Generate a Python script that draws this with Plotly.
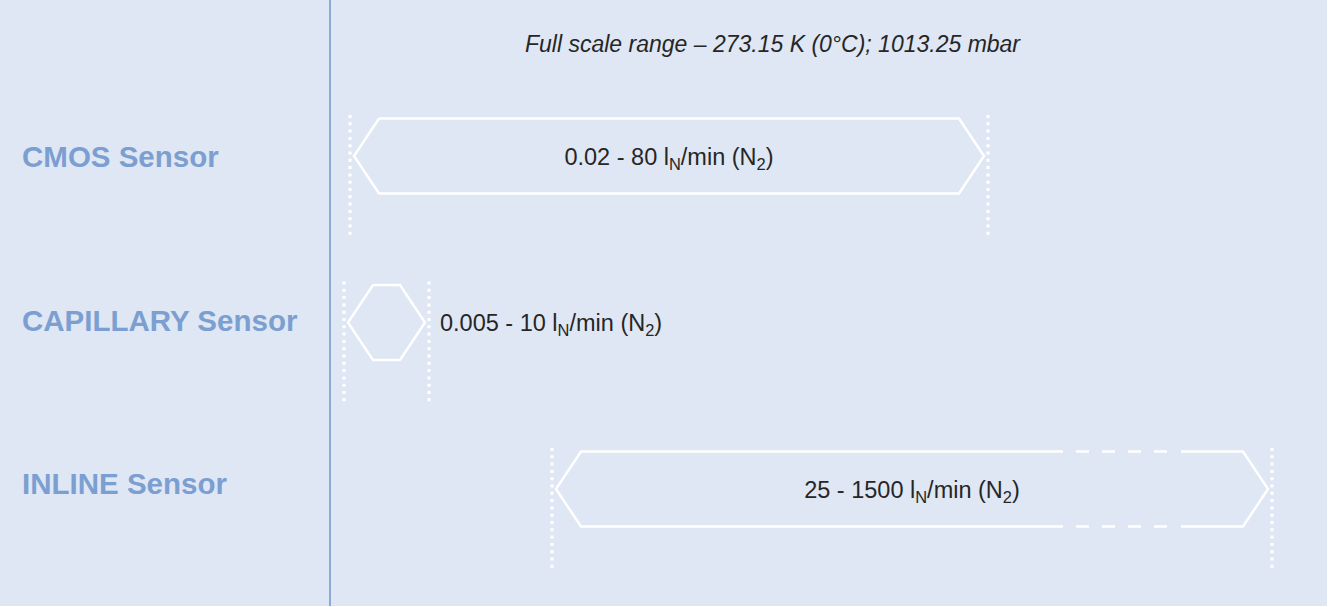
import plotly.graph_objects as go

# ---------------- data ----------------
sensors = ["CMOS Sensor", "CAPILLARY Sensor", "INLINE Sensor"]
range_text = [
    "0.02 - 80 l<sub>N</sub>/min (N<sub>2</sub>)",
    "0.005 - 10 l<sub>N</sub>/min (N<sub>2</sub>)",
    "25 - 1500 l<sub>N</sub>/min (N<sub>2</sub>)",
]
# schematic span of each range on the (unitless) horizontal scale
span_start = [350, 344, 552]
span_end = [988, 429, 1272]
# optional dashed (extendable) portion of a span
dashed_start = [None, None, 1063]
dashed_end = [None, None, 1181]
title_text = "Full scale range \u2013 273.15 K (0\u00b0C); 1013.25 mbar"

# ---------------- styling / geometry ----------------
W, H = 1335, 607
PLOT_W, PLOT_H = 1327, 606
ROW0, ROW_PX = 156, 166.5
LABEL_ROW0, LABEL_PX = 160, 163.5
TEXT_DY = 2.7
BG = "#DFE6F4"
LABEL_C = "#7B9FD0"
TEXT_C = "#262626"
FONT = "Liberation Sans, Arial, Helvetica, sans-serif"


def ry(px):
    """pixel offset -> row units"""
    return px / ROW_PX


HALF = ry(37.5)
TIP_GAP = 4
TIP_IN = 25
DOT_TOP = ry(41)
DOT_BOT = ry(80)

fig = go.Figure()

for i, name in enumerate(sensors):
    s, e = span_start[i], span_end[i]
    lt, rt = s + TIP_GAP, e - TIP_GAP
    lc, rc = lt + TIP_IN, rt - TIP_IN
    top, bot = i - HALF, i + HALF
    line = dict(color="white", width=2.5)
    if dashed_start[i] is None:
        xs = [lc, rc, rt, rc, lc, lt, lc]
        ys = [top, top, i, bot, bot, i, top]
        fig.add_trace(go.Scatter(x=xs, y=ys, mode="lines", line=line, hoverinfo="skip"))
    else:
        ds, de = dashed_start[i], dashed_end[i]
        xs = [ds, lc, lt, lc, ds, None, de, rc, rt, rc, de]
        ys = [top, top, i, bot, bot, None, top, top, i, bot, bot]
        fig.add_trace(go.Scatter(x=xs, y=ys, mode="lines", line=line, hoverinfo="skip"))
        fig.add_trace(go.Scatter(
            x=[ds + 13, de - 13, None, ds + 13, de - 13],
            y=[top, top, None, bot, bot], mode="lines",
            line=dict(color="white", width=2.5, dash="13px,13px"), hoverinfo="skip"))
    # dotted boundaries
    for xv in (s, e):
        fig.add_trace(go.Scatter(
            x=[xv, xv], y=[i - DOT_TOP, i + DOT_BOT], mode="lines",
            line=dict(color="white", width=3.2, dash="3px,4.3px"), hoverinfo="skip"))
    # range text: inside if wide enough, otherwise to the right
    ty = i + ry(TEXT_DY)
    if e - s > 300:
        fig.add_trace(go.Scatter(
            x=[(s + e) / 2], y=[ty], mode="text", text=[range_text[i]],
            textposition="middle center",
            textfont=dict(family=FONT, size=23.5, color=TEXT_C), hoverinfo="skip"))
    else:
        fig.add_trace(go.Scatter(
            x=[e + 11], y=[ty], mode="text", text=[range_text[i]],
            textposition="middle right",
            textfont=dict(family=FONT, size=23.5, color=TEXT_C), hoverinfo="skip"))
    # sensor label
    ly = ry(LABEL_ROW0 + LABEL_PX * i - ROW0)
    fig.add_trace(go.Scatter(
        x=[22], y=[ly], mode="text", text=[f"<b>{name}</b>"],
        textposition="middle right",
        textfont=dict(family=FONT, size=29.5, color=LABEL_C), hoverinfo="skip"))

fig.add_annotation(
    x=773, y=ry(44 - ROW0), xref="x", yref="y", showarrow=False,
    text=f"<i>{title_text}</i>",
    font=dict(family=FONT, size=23, color=TEXT_C),
    xanchor="center", yanchor="middle")

fig.add_shape(type="line", xref="x", yref="paper", x0=330, x1=330, y0=0, y1=1,
              line=dict(color="#8AAAD8", width=2))

fig.update_xaxes(range=[0, PLOT_W], visible=False, fixedrange=True)
fig.update_yaxes(range=[ry(PLOT_H - ROW0), ry(-ROW0)], visible=False, fixedrange=True)
fig.update_layout(
    width=W, height=H,
    margin=dict(l=0, r=W - PLOT_W, t=0, b=H - PLOT_H, pad=0),
    paper_bgcolor="white", plot_bgcolor=BG,
    showlegend=False,
)
fig.write_html("out.html", config={"displayModeBar": False},
               post_script="document.body.style.margin='0';")
